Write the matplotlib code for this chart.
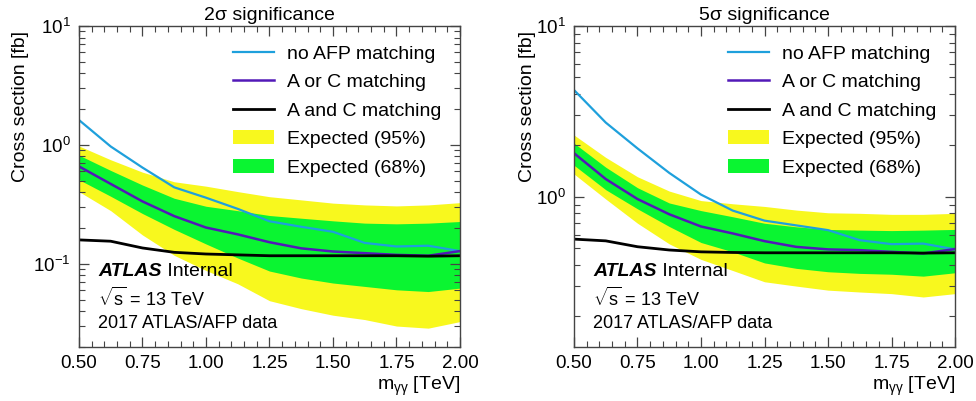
import numpy as np
import matplotlib
matplotlib.use("Agg")
import matplotlib.pyplot as plt
from matplotlib.patches import Patch
from matplotlib.lines import Line2D
from matplotlib.ticker import LogLocator, MultipleLocator, NullFormatter

plt.rcParams["font.family"] = ["Liberation Sans", "DejaVu Sans"]
plt.rcParams["mathtext.fontset"] = "custom"
plt.rcParams["mathtext.rm"] = "Liberation Sans"
plt.rcParams["mathtext.it"] = "Liberation Sans:italic"
plt.rcParams["mathtext.bf"] = "Liberation Sans:bold"

# Diphoton mass points [TeV]
mass = [0.50, 0.625, 0.75, 0.875, 1.00, 1.125, 1.25, 1.375, 1.50, 1.625, 1.75, 1.875, 2.00]

# 2 sigma significance: cross sections [fb]
s2_no_afp = [1.62, 0.97, 0.645, 0.44, 0.36, 0.29, 0.228, 0.205, 0.186, 0.150, 0.140, 0.142, 0.128]
s2_a_or_c = [0.66, 0.47, 0.335, 0.252, 0.202, 0.177, 0.152, 0.135, 0.127, 0.123, 0.119, 0.117, 0.128]
s2_a_and_c = [0.159, 0.155, 0.136, 0.125, 0.121, 0.119, 0.117, 0.117, 0.117, 0.117, 0.117, 0.116, 0.117]
s2_95_hi = [0.98, 0.75, 0.59, 0.49, 0.45, 0.405, 0.367, 0.345, 0.324, 0.313, 0.307, 0.313, 0.327]
s2_95_lo = [0.405, 0.28, 0.175, 0.118, 0.088, 0.068, 0.049, 0.042, 0.037, 0.034, 0.030, 0.0288, 0.0327]
s2_68_hi = [0.82, 0.61, 0.46, 0.356, 0.305, 0.28, 0.255, 0.242, 0.230, 0.220, 0.217, 0.220, 0.227]
s2_68_lo = [0.51, 0.37, 0.265, 0.195, 0.147, 0.112, 0.087, 0.076, 0.069, 0.0646, 0.0605, 0.0585, 0.0625]

# 5 sigma significance: cross sections [fb]
s5_no_afp = [4.22, 2.72, 1.92, 1.38, 1.03, 0.83, 0.725, 0.68, 0.638, 0.557, 0.528, 0.532, 0.492]
s5_a_or_c = [1.80, 1.27, 0.97, 0.79, 0.67, 0.61, 0.55, 0.509, 0.492, 0.487, 0.476, 0.466, 0.494]
s5_a_and_c = [0.565, 0.552, 0.51, 0.488, 0.476, 0.472, 0.470, 0.470, 0.470, 0.470, 0.470, 0.468, 0.470]
s5_95_hi = [2.30, 1.70, 1.31, 1.08, 0.95, 0.91, 0.878, 0.836, 0.806, 0.800, 0.789, 0.789, 0.800]
s5_95_lo = [1.36, 0.97, 0.70, 0.53, 0.43, 0.37, 0.318, 0.300, 0.284, 0.277, 0.271, 0.259, 0.271]
s5_68_hi = [2.06, 1.49, 1.13, 0.92, 0.83, 0.764, 0.700, 0.667, 0.644, 0.638, 0.634, 0.638, 0.644]
s5_68_lo = [1.53, 1.10, 0.85, 0.67, 0.54, 0.476, 0.410, 0.381, 0.364, 0.356, 0.352, 0.343, 0.359]

titles = ["2σ significance", "5σ significance"]
legend_labels = ["no AFP matching", "A or C matching", "A and C matching",
                 "Expected (95%)", "Expected (68%)"]

C_BLUE = "#1ea0dc"
C_PURPLE = "#5219b8"
C_BLACK = "#000000"
C_YELLOW = "#f8f81e"
C_GREEN = "#0af531"

fig = plt.figure(figsize=(9.76, 4.01), dpi=100)
ax_l = fig.add_axes([0.0809, 0.1347, 0.3904, 0.8005])
ax_r = fig.add_axes([0.5881, 0.1347, 0.3904, 0.8005])

panels = [
    (ax_l, titles[0], (0.02, 10), -0.13, s2_no_afp, s2_a_or_c, s2_a_and_c, s2_95_hi, s2_95_lo, s2_68_hi, s2_68_lo),
    (ax_r, titles[1], (0.132, 10), -0.10, s5_no_afp, s5_a_or_c, s5_a_and_c, s5_95_hi, s5_95_lo, s5_68_hi, s5_68_lo),
]

for ax, title, ylim, ylab_x, no_afp, a_or_c, a_and_c, hi95, lo95, hi68, lo68 in panels:
    ax.fill_between(mass, lo95, hi95, color=C_YELLOW, lw=0)
    ax.fill_between(mass, lo68, hi68, color=C_GREEN, lw=0)
    ax.plot(mass, no_afp, color=C_BLUE, lw=1.6)
    ax.plot(mass, a_or_c, color=C_PURPLE, lw=1.8)
    ax.plot(mass, a_and_c, color=C_BLACK, lw=2.0)

    ax.set_yscale("log")
    ax.set_xlim(0.5, 2.0)
    ax.set_ylim(*ylim)
    ax.xaxis.set_major_locator(MultipleLocator(0.25))
    ax.xaxis.set_minor_locator(MultipleLocator(0.05))
    ax.yaxis.set_major_locator(LogLocator(base=10, numticks=10))
    ax.yaxis.set_minor_locator(LogLocator(base=10, subs=np.arange(2, 10), numticks=20))
    ax.yaxis.set_minor_formatter(NullFormatter())
    ax.tick_params(which="both", direction="in", top=True, right=True, labelsize=13.5, color="#444444")
    ax.tick_params(which="major", length=7, width=0.9, pad=6)
    ax.tick_params(which="minor", length=4, width=0.8)
    for sp in ax.spines.values():
        sp.set_color("#444444")
        sp.set_linewidth(1.0)

    ax.set_title(title, fontsize=14, pad=4)
    ax.set_ylabel("Cross section [fb]", fontsize=14)
    ax.yaxis.set_label_coords(ylab_x, 0.985)
    ax.yaxis.label.set_ha("right")
    ax.set_xlabel(r"m$_{\mathrm{γγ}}$ [TeV]", fontsize=14, loc="right", labelpad=2)

    handles = [
        Line2D([], [], color=C_BLUE, lw=1.6),
        Line2D([], [], color=C_PURPLE, lw=1.8),
        Line2D([], [], color=C_BLACK, lw=2.0),
        Patch(facecolor=C_YELLOW, edgecolor="none"),
        Patch(facecolor=C_GREEN, edgecolor="none"),
    ]
    ax.legend(handles, legend_labels, loc="upper left", bbox_to_anchor=(0.385, 0.965),
              frameon=False, fontsize=14, handlelength=2.1, handletextpad=0.65,
              labelspacing=0.56, borderaxespad=0)

    t_atlas = ax.text(0.05, 0.234, "ATLAS", transform=ax.transAxes, fontsize=14,
                      fontweight="bold", fontstyle="italic", va="center", ha="left")
    ax.annotate(" Internal", xy=(1, 0.5), xycoords=t_atlas, fontsize=14,
                va="center", ha="left")
    ax.text(0.05, 0.153, r"$\sqrt{\mathrm{s}}$ = 13 TeV", transform=ax.transAxes,
            fontsize=13, va="center", ha="left")
    ax.text(0.05, 0.072, "2017 ATLAS/AFP data", transform=ax.transAxes,
            fontsize=13, va="center", ha="left")

fig.savefig("out.png", dpi=100)
